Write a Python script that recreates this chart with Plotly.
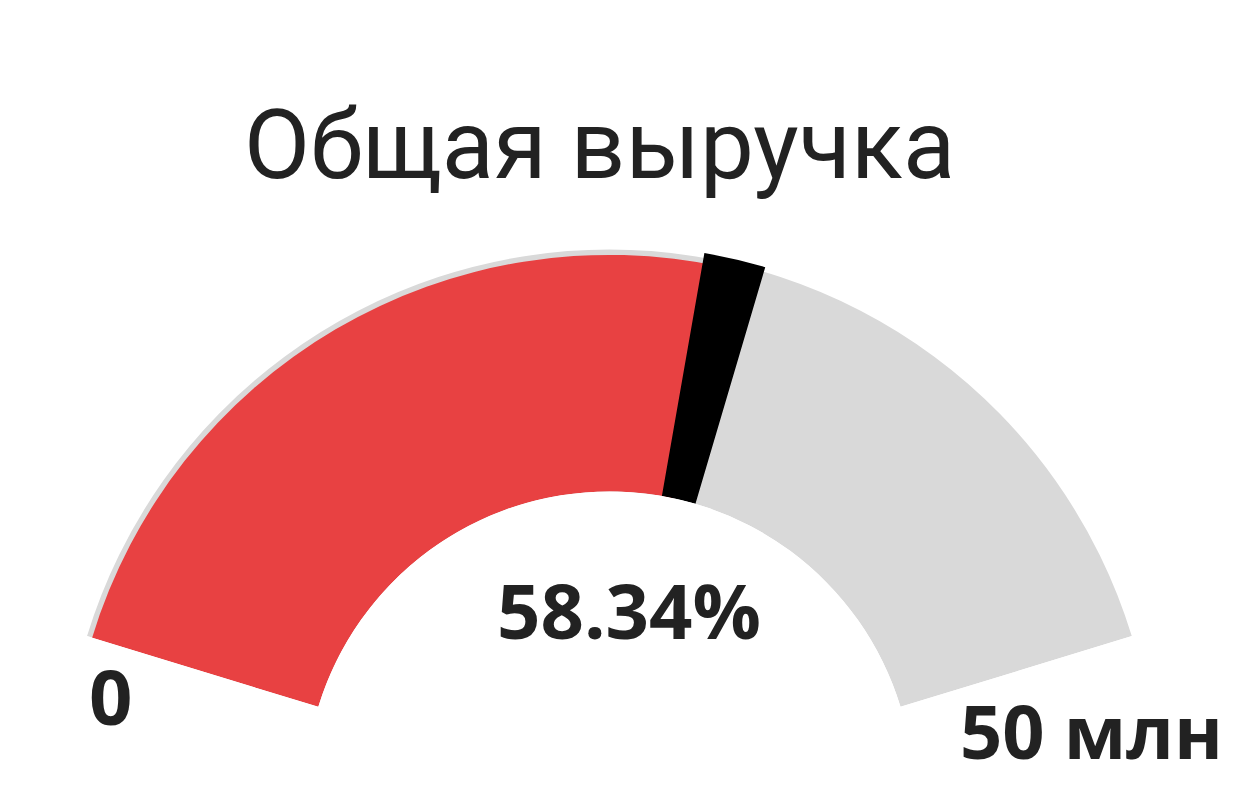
import plotly.graph_objects as go

# data
title = "Общая выручка"
value = 29.17          # млн
max_value = 50         # млн
value_label = "58.34%"
min_tick = "0"
max_tick = "50 млн"

SPAN = 146  # degrees of arc covered by the scale

red = "#E84142"
grey = "#D9D9D9"
text_col = "#222222"


def to_deg(v):
    return v / max_value * SPAN


fig = go.Figure()

# background track over the whole scale
fig.add_trace(go.Barpolar(
    r=[1.0], theta=[to_deg(max_value) / 2], width=[to_deg(max_value)],
    marker=dict(color=grey, line=dict(width=0)), hoverinfo="skip"))

# filled part up to the value
fig.add_trace(go.Barpolar(
    r=[0.978], theta=[to_deg(value) / 2], width=[to_deg(value)],
    marker=dict(color=red, line=dict(width=0)), hoverinfo="skip"))

# marker at the value
fig.add_trace(go.Barpolar(
    r=[1.02], theta=[to_deg(value) + 1], width=[6.5],
    marker=dict(color="black", line=dict(width=0)), hoverinfo="skip"))

fig.update_layout(
    width=1240, height=808,
    margin=dict(l=0, r=0, t=0, b=0),
    paper_bgcolor="white",
    showlegend=False,
    polar=dict(
        domain=dict(x=[0.05, 0.92], y=[0.025, 0.71]),
        sector=[17, 163],
        hole=0.55,
        bgcolor="white",
        radialaxis=dict(range=[0, 1.03], visible=False),
        angularaxis=dict(rotation=163, direction="clockwise", visible=False),
    ),
    annotations=[
        dict(text=title, x=0.477, y=0.83, xref="paper", yref="paper",
             xanchor="center", yanchor="middle", showarrow=False,
             font=dict(family="Roboto", size=96, color=text_col)),
        dict(text=value_label, x=0.501, y=0.255, xref="paper", yref="paper",
             xanchor="center", yanchor="middle", showarrow=False,
             font=dict(family="Open Sans", size=76, color=text_col, weight="bold")),
        dict(text=min_tick, x=0.083, y=0.149, xref="paper", yref="paper",
             xanchor="center", yanchor="middle", showarrow=False,
             font=dict(family="Open Sans", size=76, color=text_col, weight="bold")),
        dict(text=max_tick, x=0.874, y=0.106, xref="paper", yref="paper",
             xanchor="center", yanchor="middle", showarrow=False,
             font=dict(family="Open Sans", size=74, color=text_col, weight="bold")),
    ],
)

fig.write_html("out.html")
